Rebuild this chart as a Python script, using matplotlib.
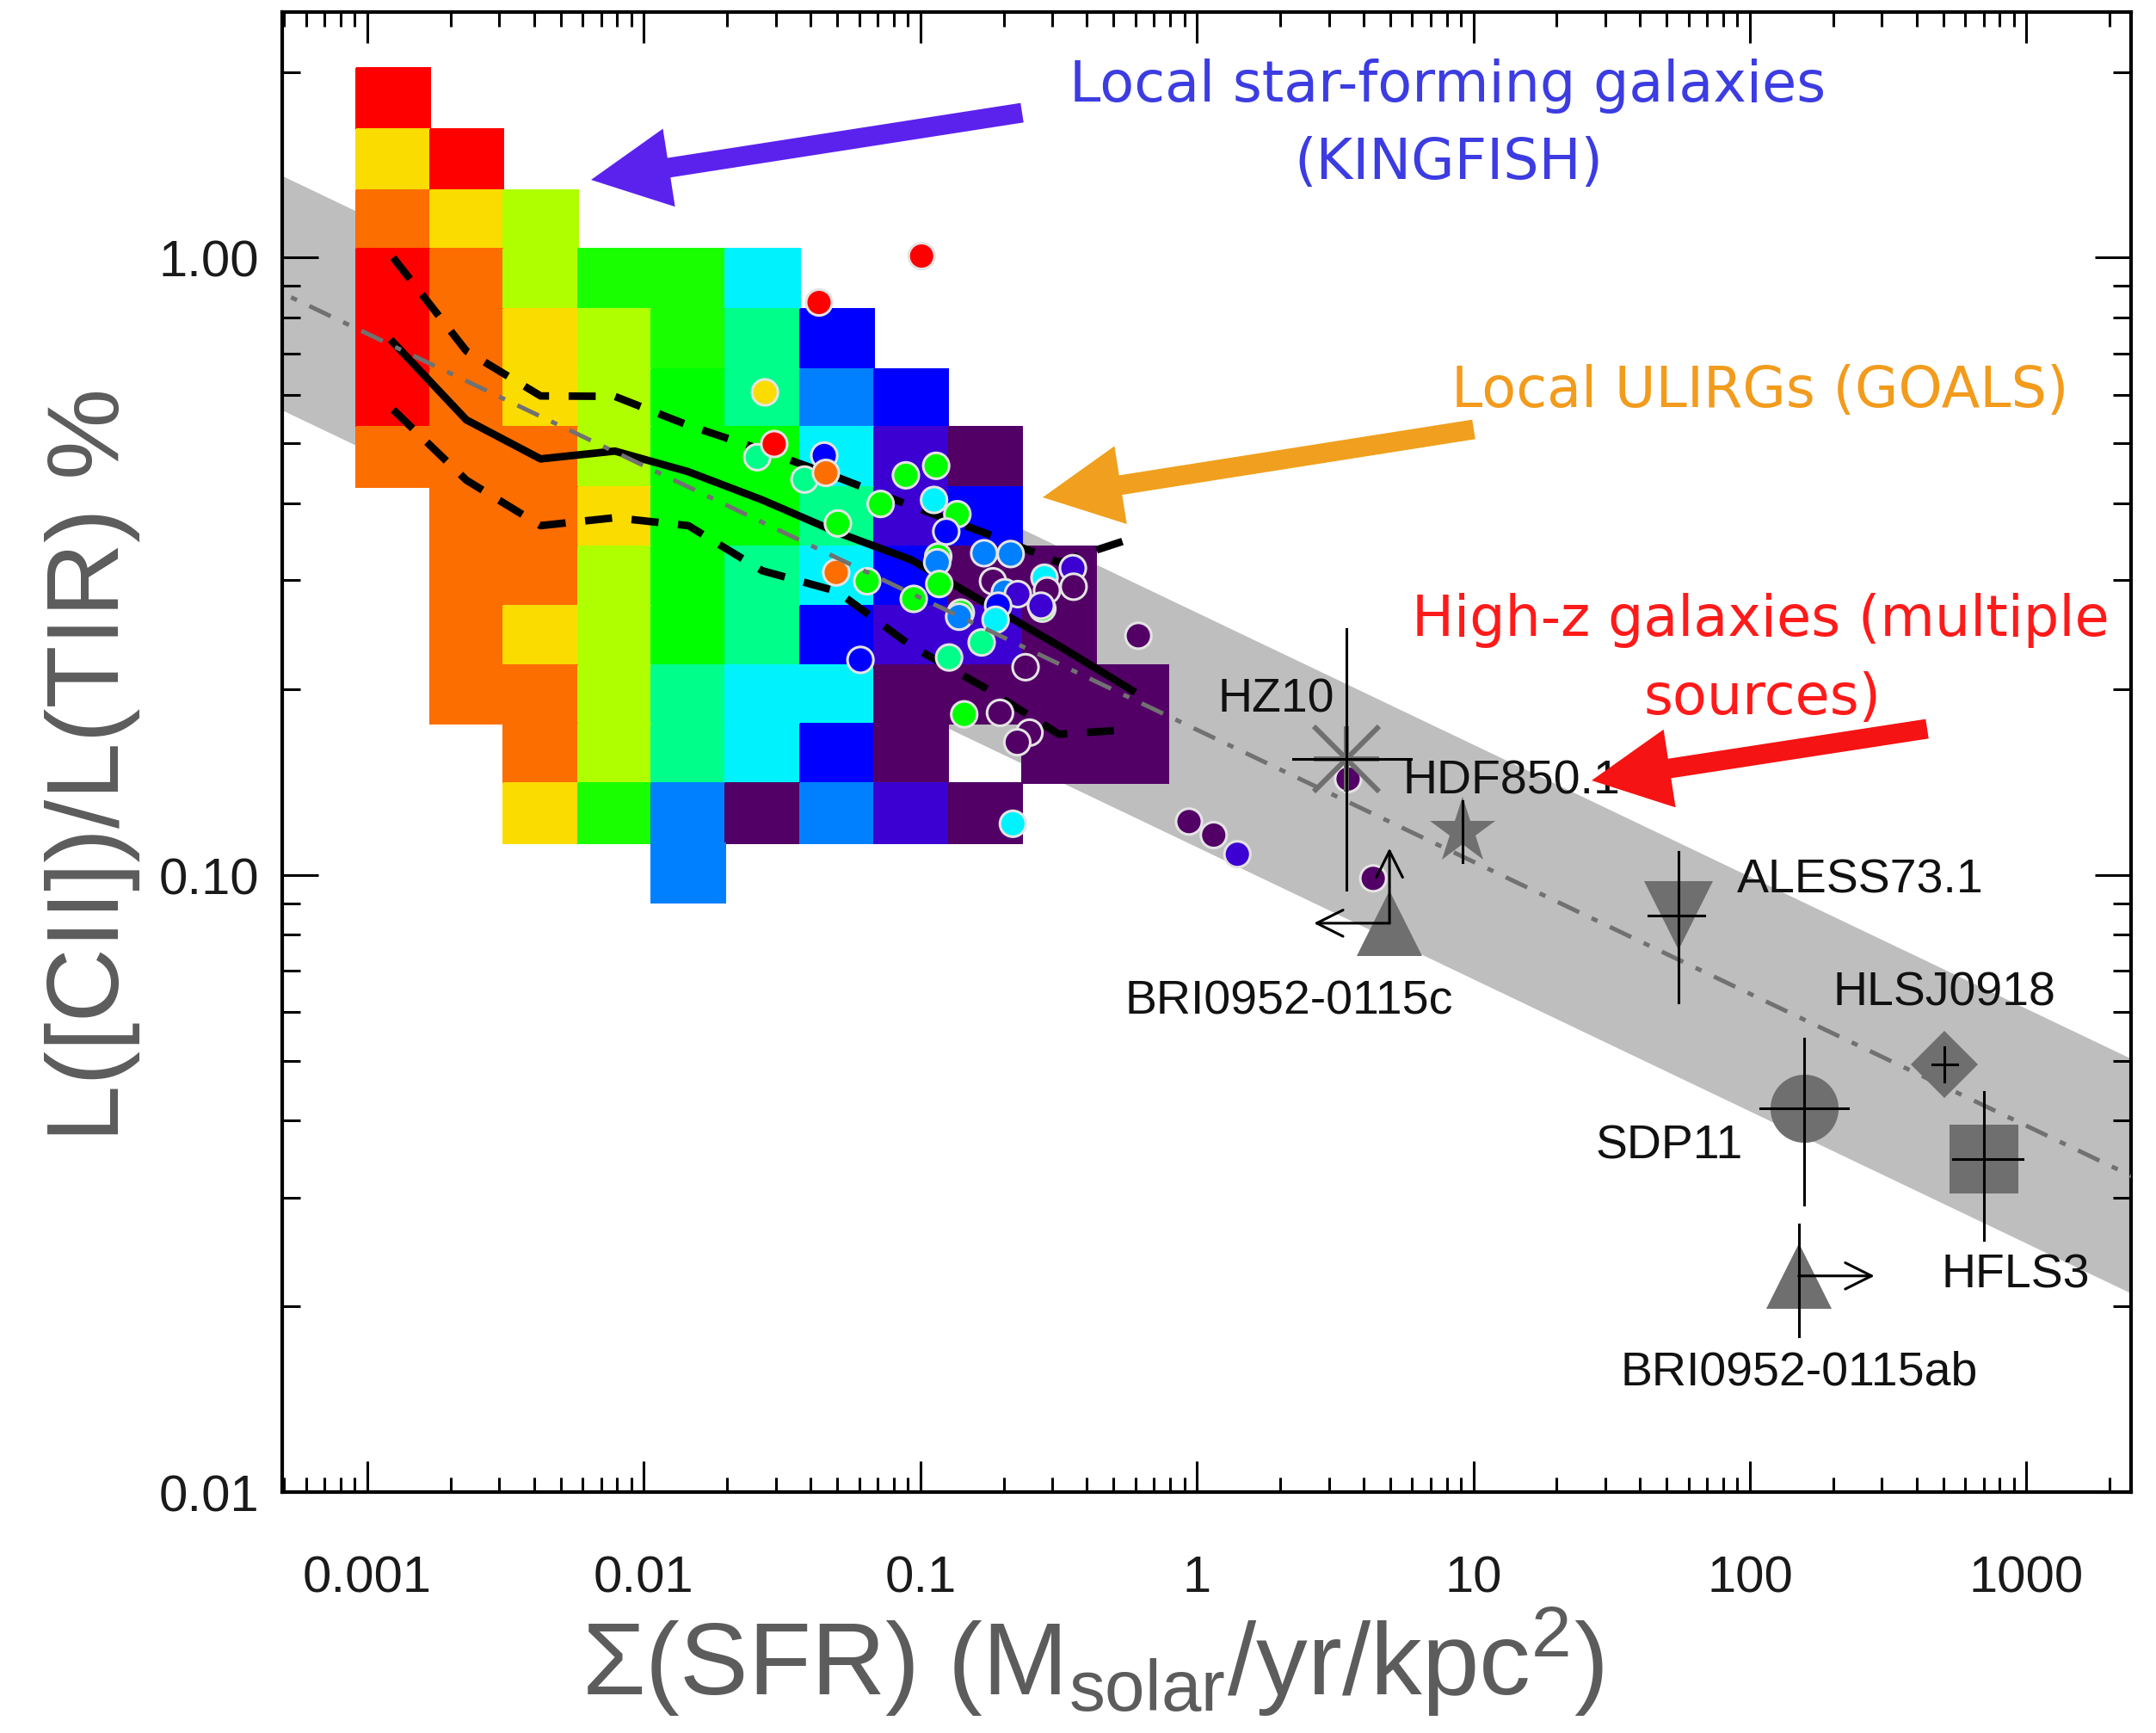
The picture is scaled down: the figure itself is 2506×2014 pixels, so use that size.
import matplotlib
matplotlib.use('Agg')
import matplotlib.pyplot as plt
import numpy as np
from matplotlib.colors import ListedColormap
from matplotlib.patches import FancyArrowPatch
from matplotlib.ticker import LogLocator, NullFormatter

plt.rcParams['font.family'] = ['Liberation Sans', 'DejaVu Sans']
plt.rcParams['mathtext.default'] = 'regular'

# colour levels of the map, low -> high
level_colors = ['#520066', '#3c00d2', '#0000ff', '#0080ff', '#00f3fc', '#00ff8a',
                '#00ff00', '#1aff00', '#b0ff00', '#fadc00', '#fc6e00', '#ff0000']
level_keys = 'pibdcsGgyYor'

# KINGFISH binned map
bin_x_edges = [0.000908, 0.001682, 0.003102, 0.005778, 0.01066, 0.01965,
               0.0366, 0.068, 0.1259, 0.2329, 0.4318, 0.788]
bin_y_edges = [2.026, 1.614, 1.288, 1.033, 0.825, 0.660, 0.5313, 0.4249,
               0.3402, 0.2731, 0.2189, 0.1757, 0.1407, 0.1126, 0.0901]
grid_rows = [
    'r..........',
    'Yr.........',
    'oYy........',
    'royggc.....',
    'roYygsb....',
    'roYyGsdb...',
    'oooyGGcip..',
    '.ooYGGsib..',
    '.ooyGscbpp.',
    '.oYyGsbiip.',
    '.ooysccpppp',
    '..oyscbp.pp',
    '..Ygdpdip..',
    '....d......',
]

# running median and percentiles
line_x = [0.00124, 0.00228, 0.00423, 0.00785, 0.01447, 0.0268,
          0.0499, 0.0925, 0.171, 0.317, 0.583]
median_y = [0.729, 0.546, 0.472, 0.486, 0.450, 0.405, 0.359, 0.324, 0.276, 0.235, 0.199]
upper_y = [1.00, 0.706, 0.597, 0.596, 0.535, 0.488, 0.441, 0.396, 0.358, 0.321, 0.351]
lower_y = [0.567, 0.436, 0.368, 0.379, 0.368, 0.311, 0.288, 0.235, 0.201, 0.169, 0.172]

# fit and scatter band
fit_x = [4.0e-4, 3000]
fit_y = [0.916, 0.031]
fit_hi = [1.419, 0.048]
fit_lo = [0.592, 0.0200]

# individual local galaxies (x, y, colour level)
pt_x = [0.101, 0.0430, 0.0274, 0.0257, 0.0296, 0.0449, 0.0381, 0.0455, 0.0886, 0.114,
        0.0718, 0.112, 0.136, 0.124, 0.0503, 0.170, 0.212, 0.116, 0.115, 0.0496,
        0.0642, 0.117, 0.0946, 0.183, 0.202, 0.225, 0.281, 0.287, 0.356, 0.358,
        0.276, 0.273, 0.191, 0.140, 0.138, 0.187, 0.1665, 0.127, 0.0607, 0.240,
        0.614, 0.144, 0.194, 0.248, 0.224, 0.216, 0.936, 1.15, 1.40, 3.52, 4.34]
pt_y = [1.006, 0.846, 0.605, 0.475, 0.499, 0.478, 0.437, 0.448, 0.444, 0.460,
        0.399, 0.405, 0.384, 0.360, 0.371, 0.332, 0.331, 0.328, 0.321, 0.309,
        0.299, 0.296, 0.280, 0.299, 0.287, 0.285, 0.303, 0.289, 0.314, 0.293,
        0.270, 0.273, 0.273, 0.266, 0.262, 0.259, 0.238, 0.225, 0.223, 0.217,
        0.244, 0.182, 0.183, 0.170, 0.164, 0.121, 0.122, 0.116, 0.108, 0.143, 0.0987]
pt_lvl = [11, 11, 9, 5, 11, 2, 5, 10, 6, 6,
          6, 4, 6, 2, 6, 3, 3, 6, 3, 10,
          6, 6, 6, 0, 3, 1, 4, 0, 1, 0,
          6, 1, 2, 6, 3, 4, 5, 5, 2, 0,
          0, 6, 0, 0, 0, 4, 0, 0, 1, 0, 0]

# high-z galaxies
hz_names = ['HZ10', 'HDF850.1', 'BRI0952-0115c', 'ALESS73.1', 'HLSJ0918',
            'SDP11', 'HFLS3', 'BRI0952-0115ab']
hz_x = [3.47, 9.14, 4.97, 55.2, 506, 157, 702, 150]
hz_y = [0.154, 0.1175, 0.0835, 0.0859, 0.0493, 0.0418, 0.0346, 0.0224]
hz_x_lo = [2.23, np.nan, np.nan, 42.8, 455, 108.7, 542, np.nan]
hz_x_hi = [5.94, np.nan, np.nan, 68.3, 560, 226.7, 969, np.nan]
hz_y_lo = [0.0947, 0.105, np.nan, 0.0622, 0.0462, 0.0292, 0.0256, 0.0179]
hz_y_hi = [0.2503, 0.1316, np.nan, 0.109, 0.0526, 0.0543, 0.0445, 0.0271]
hz_markers = ['x', '*', '^', 'v', 'D', 'o', 's', '^']
hz_sizes = [55, 58, 55, 57, 40, 57, 58, 55]
label_x = [1.186, 5.57, 2.149, 89.8, 506, 51.2, 915, 150.4]
label_y = [0.1844, 0.1358, 0.0597, 0.0938, 0.0617, 0.0348, 0.02152, 0.01496]
label_ha = ['left', 'left', 'center', 'left', 'center', 'center', 'center', 'center']

W, H = 2506, 2015
fig = plt.figure(figsize=(W / 100, H / 100), dpi=100)
ax = fig.add_axes([328 / W, 1 - 1735 / H, (2477 - 328) / W, (1735 - 15) / H])
ax.set_xscale('log')
ax.set_yscale('log')

# gray band
ax.fill_between(fit_x, fit_lo, fit_hi, color='#bebebe', lw=0, zorder=1)

# map
Z = np.array([[level_keys.find(c) for c in row] for row in grid_rows], dtype=float)
Z = np.ma.masked_less(Z, 0)
cmap = ListedColormap(level_colors)
ax.pcolormesh(bin_x_edges, bin_y_edges, Z, cmap=cmap, vmin=-0.5, vmax=11.5,
              shading='flat', edgecolors='face', linewidth=0.3, zorder=2)

# median and percentiles
ax.plot(line_x, median_y, color='black', lw=6.3, zorder=3)
ax.plot(line_x, upper_y, color='black', lw=6.3, dashes=(3.6, 2.6), zorder=3)
ax.plot(line_x, lower_y, color='black', lw=6.3, dashes=(3.6, 2.6), zorder=3)

# individual galaxies
ax.scatter(pt_x, pt_y, c=[level_colors[l] for l in pt_lvl], s=470,
           edgecolors='#e4e4e4', linewidths=2.2, zorder=4)

# fit line
ax.plot(fit_x, fit_y, color='#717171', lw=3.6, dashes=(5.5, 3.2, 1.5, 3.2), zorder=5)

# high-z sources
gray = '#6f6f6f'
for i in range(len(hz_names)):
    if hz_markers[i] == 'x':
        ax.plot(hz_x[i], hz_y[i], marker='x', ms=hz_sizes[i], mew=4.3, color=gray, zorder=6)
        ax.plot(hz_x[i], hz_y[i], marker='+', ms=hz_sizes[i], mew=4.3, color=gray, zorder=6)
    else:
        ax.plot(hz_x[i], hz_y[i], marker=hz_markers[i], ms=hz_sizes[i], color=gray,
                mec=gray, mew=0, zorder=6)
    if not np.isnan(hz_x_lo[i]):
        ax.plot([hz_x_lo[i], hz_x_hi[i]], [hz_y[i], hz_y[i]], color='black', lw=2.2, zorder=7)
    if not np.isnan(hz_y_lo[i]):
        ax.plot([hz_x[i], hz_x[i]], [hz_y_lo[i], hz_y_hi[i]], color='black', lw=2.2, zorder=7)
    ax.text(label_x[i], label_y[i], hz_names[i], ha=label_ha[i], va='baseline',
            fontsize=40, color='#111111', zorder=8)

# limits
lim_props = dict(arrowstyle='->', lw=2.2, color='black', shrinkA=0, shrinkB=0,
                 mutation_scale=55)
ax.annotate('', xy=(hz_x[2], 0.1105), xytext=(hz_x[2], hz_y[2]), arrowprops=lim_props, zorder=7)
ax.annotate('', xy=(2.646, hz_y[2]), xytext=(hz_x[2], hz_y[2]), arrowprops=lim_props, zorder=7)
ax.annotate('', xy=(282, hz_y[7]), xytext=(hz_x[7], hz_y[7]), arrowprops=lim_props, zorder=7)

ax.set_xlim(4.92e-4, 2388)
ax.set_ylim(0.01, 2.5)
ax.set_xticks([1e-3, 1e-2, 0.1, 1, 10, 100, 1000])
ax.set_xticklabels(['0.001', '0.01', '0.1', '1', '10', '100', '1000'])
ax.set_yticks([0.01, 0.1, 1])
ax.set_yticklabels(['0.01', '0.10', '1.00'])
ax.xaxis.set_minor_locator(LogLocator(base=10, subs=np.arange(2, 10), numticks=100))
ax.yaxis.set_minor_locator(LogLocator(base=10, subs=np.arange(2, 10), numticks=100))
ax.xaxis.set_minor_formatter(NullFormatter())
ax.yaxis.set_minor_formatter(NullFormatter())
ax.tick_params(which='both', direction='in', top=True, right=True, width=2.2, color='black')
ax.tick_params(axis='x', which='major', length=26, pad=52, labelsize=43, labelcolor='#1a1a1a')
ax.tick_params(axis='x', which='minor', length=12.5)
ax.tick_params(axis='y', which='major', length=30, pad=19, labelsize=43, labelcolor='#1a1a1a')
ax.tick_params(axis='y', which='minor', length=15)
for s in ax.spines.values():
    s.set_linewidth(3)

# axis titles
fig.text(108 / W, 1 - 889 / H, 'L([CII])/L(TIR) %', rotation=90, ha='center', va='center',
         fontsize=86, color='#5c5c5c')
fig.text(1270 / W, 1 - 1970 / H, 'Σ(SFR) (M$_{solar}$/yr/kpc$^{2}$)', ha='center',
         va='baseline', fontsize=86, color='#5c5c5c')

# annotations
ann_font = 'DejaVu Sans'
fig.text(1683 / W, 1 - 118 / H, 'Local star-forming galaxies', ha='center', va='baseline',
         fontsize=47, color='#3c3ce2', family=ann_font)
fig.text(1684 / W, 1 - 208 / H, '(KINGFISH)', ha='center', va='baseline',
         fontsize=47, color='#3c3ce2', family=ann_font)
fig.text(2046 / W, 1 - 473 / H, 'Local ULIRGs (GOALS)', ha='center', va='baseline',
         fontsize=47, color='#f29b1c', family=ann_font)
fig.text(2046 / W, 1 - 739 / H, 'High-z galaxies (multiple', ha='center', va='baseline',
         fontsize=47, color='#ff1a1a', family=ann_font)
fig.text(2048 / W, 1 - 830 / H, 'sources)', ha='center', va='baseline',
         fontsize=47, color='#ff1a1a', family=ann_font)

arrow_style = 'simple,head_length=66,head_width=66,tail_width=16.5'
arrows = [((1188, 132), (687, 210), '#5b22ee'),
          ((1713, 500), (1212, 579), '#f0a01e'),
          ((2240, 848), (1850, 908), '#f51313')]
for (x0, y0), (x1, y1), col in arrows:
    fig.add_artist(FancyArrowPatch((x0 / W, 1 - y0 / H), (x1 / W, 1 - y1 / H),
                                   arrowstyle=arrow_style, mutation_scale=1, color=col,
                                   lw=0, shrinkA=0, shrinkB=0, transform=fig.transFigure,
                                   zorder=10))

fig.savefig('out.png', dpi=100, facecolor='white')
